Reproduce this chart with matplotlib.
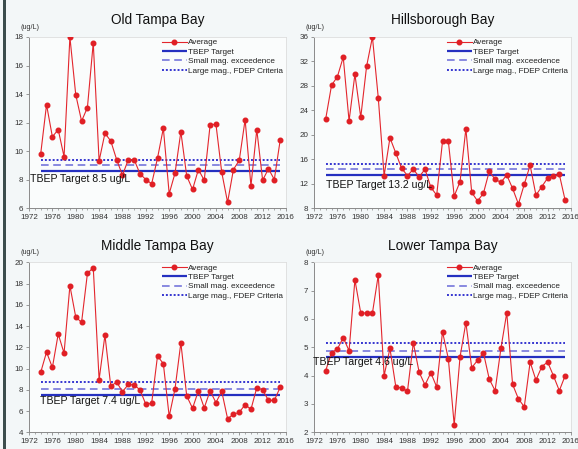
import matplotlib
matplotlib.use("Agg")
import matplotlib.pyplot as plt
from matplotlib.patches import Rectangle
from matplotlib.ticker import MultipleLocator

plt.rcParams['font.family'] = ['Liberation Sans', 'DejaVu Sans']

years = list(range(1974, 2016))

otb = [9.8, 13.25, 11.0, 11.5, 9.6, 18.0, 13.95, 12.1, 13.05, 17.6,
       9.3, 11.25, 10.7, 9.4, 8.3, 9.4, 9.4, 8.4, 8.0, 7.7,
       9.5, 11.6, 7.0, 8.45, 11.35, 8.25, 7.3, 8.7, 7.95, 11.8,
       11.9, 8.5, 6.4, 8.7, 9.35, 12.2, 7.55, 11.5, 7.95, 8.75,
       8.0, 10.75]
hb = [22.6, 28.1, 29.5, 32.7, 22.25, 29.9, 22.85, 31.2, 36.0, 26.05,
      13.3, 19.5, 17.0, 14.5, 13.3, 14.35, 13.1, 14.35, 11.4, 10.1,
      18.9, 18.9, 9.96, 12.3, 21.0, 10.55, 9.15, 10.4, 14.0, 12.7,
      12.2, 13.4, 11.2, 8.65, 11.9, 15.0, 10.1, 11.5, 12.9, 13.2,
      13.5, 9.25]
mtb = [9.64, 11.55, 10.1, 13.25, 11.45, 17.8, 14.85, 14.35, 18.95, 19.5,
       8.95, 13.15, 8.33, 8.73, 7.82, 8.5, 8.45, 8.0, 6.63, 6.73,
       11.18, 10.46, 5.5, 8.1, 12.43, 7.42, 6.26, 7.9, 6.3, 7.9,
       6.8, 7.85, 5.28, 5.7, 5.88, 6.6, 6.16, 8.2, 8.0, 7.0,
       7.0, 8.23]
ltb = [4.18, 4.81, 4.94, 5.34, 4.88, 7.38, 6.21, 6.21, 6.21, 7.55,
       4.0, 4.96, 3.61, 3.56, 3.45, 5.16, 4.12, 3.67, 4.1, 3.6,
       5.55, 4.59, 2.26, 4.66, 5.87, 4.28, 4.54, 4.81, 3.88, 3.47,
       4.96, 6.22, 3.69, 3.18, 2.9, 4.48, 3.84, 4.32, 4.48, 3.99,
       3.47, 4.0]

titles = ["Old Tampa Bay", "Hillsborough Bay", "Middle Tampa Bay", "Lower Tampa Bay"]
series = [otb, hb, mtb, ltb]
targets = [8.6, 13.45, 7.55, 4.66]
small_mag = [9.0, 14.35, 8.08, 4.86]
large_mag = [9.4, 15.2, 8.7, 5.15]
target_labels = ["TBEP Target 8.5 ug/L", "TBEP Target 13.2 ug/L",
                 "TBEP Target 7.4 ug/L", "TBEP Target 4.6 ug/L"]
label_pos = [(1972.1, 8.03), (1974.05, 11.7), (1973.9, 6.97), (1971.9, 4.47)]
ylims = [(6, 18), (8, 36), (4, 20), (2, 8)]
ysteps = [2, 4, 2, 1]
legend_labels = ["Average", "TBEP Target", "Small mag. exceedence", "Large mag., FDEP Criteria"]

fig = plt.figure(figsize=(5.78, 4.49), dpi=100)
fig.patch.set_facecolor('#f3f7f8')
fig.patches.append(Rectangle((3/578, 0), 3/578, 1, transform=fig.transFigure,
                             facecolor='#3c4d4d', edgecolor='none', zorder=0))

rects = [(0.0502, 0.5367, 0.4446, 0.3809), (0.5433, 0.5367, 0.4446, 0.3809),
         (0.0502, 0.0372, 0.4446, 0.3786), (0.5433, 0.0372, 0.4446, 0.3786)]

for i in range(4):
    ax = fig.add_axes(rects[i])
    ax.set_facecolor('#fafcfc')
    x0, x1 = years[0], years[-1]
    ax.plot(years, series[i], color='#e3262d', lw=0.8, marker='o', ms=3.3,
            mec='#e01f25', mfc='#e01f25', label=legend_labels[0], zorder=4)
    ax.hlines(targets[i], x0, x1, color='#2530c0', lw=1.6, label=legend_labels[1], zorder=3)
    ax.hlines(small_mag[i], x0, x1, color='#6a6ad8', lw=1.1, linestyles=(0, (5, 3)),
              label=legend_labels[2], zorder=3)
    ax.hlines(large_mag[i], x0, x1, color='#3535d0', lw=1.4, linestyles=(0, (1, 1)),
              label=legend_labels[3], zorder=3)
    ax.set_xlim(1972, 2016)
    ax.set_ylim(*ylims[i])
    ax.xaxis.set_major_locator(MultipleLocator(4))
    ax.xaxis.set_minor_locator(MultipleLocator(1))
    ax.yaxis.set_major_locator(MultipleLocator(ysteps[i]))
    ax.tick_params(axis='both', which='major', labelsize=5.8, labelcolor='#333333',
                   color='#888888', length=2.5, width=0.6, pad=1.5)
    ax.tick_params(axis='x', which='minor', color='#888888', length=1.5, width=0.5)
    for s in ['left', 'bottom']:
        ax.spines[s].set_color('#8a8a8a')
        ax.spines[s].set_linewidth(0.7)
    for s in ['right', 'top']:
        ax.spines[s].set_color('#dddddd')
        ax.spines[s].set_linewidth(0.6)
    ax.set_title(titles[i], fontsize=9.8, pad=9, color='#111111')
    ax.text(0.005, 1.058, "(ug/L)", transform=ax.transAxes, ha='center', va='center',
            fontsize=5.2, color='#333333')
    ax.text(label_pos[i][0], label_pos[i][1], target_labels[i], fontsize=7.6,
            ha='left', va='center', color='#111111', zorder=5)
    leg = ax.legend(loc='upper left', bbox_to_anchor=(0.515, 0.995), frameon=False,
                    fontsize=5.9, handlelength=3.0, handletextpad=0.15,
                    labelspacing=0.2, borderaxespad=0, borderpad=0.1)
    for t in leg.get_texts():
        t.set_color('#222222')

fig.savefig("out.png", dpi=100, facecolor=fig.get_facecolor())
